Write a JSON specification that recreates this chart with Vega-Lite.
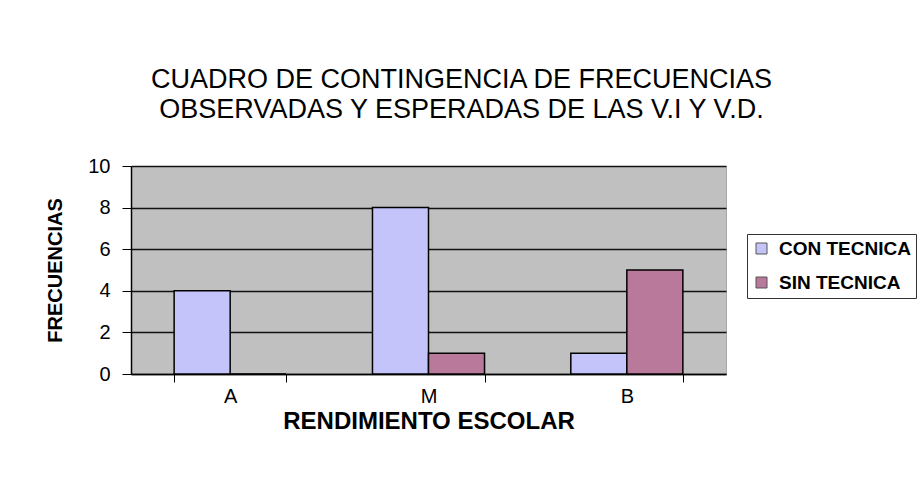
{
  "$schema": "https://vega.github.io/schema/vega-lite/v6.json",
  "autosize": {"type": "none"},
  "padding": {"left": 131, "top": 166, "right": 197, "bottom": 112},
  "width": 595,
  "height": 208,
  "background": "white",
  "title": {
    "text": ["CUADRO DE CONTINGENCIA DE FRECUENCIAS", "OBSERVADAS Y ESPERADAS DE LAS V.I Y V.D."],
    "font": "Liberation Sans",
    "fontSize": 27,
    "fontWeight": "normal",
    "color": "black",
    "lineHeight": 30,
    "anchor": "middle",
    "baseline": "bottom",
    "dx": 33,
    "offset": 5
  },
  "data": {
    "values": [
      {"rendimiento": "A", "serie": "CON TECNICA", "frecuencia": 4},
      {"rendimiento": "A", "serie": "SIN TECNICA", "frecuencia": 0},
      {"rendimiento": "M", "serie": "CON TECNICA", "frecuencia": 8},
      {"rendimiento": "M", "serie": "SIN TECNICA", "frecuencia": 1},
      {"rendimiento": "B", "serie": "CON TECNICA", "frecuencia": 1},
      {"rendimiento": "B", "serie": "SIN TECNICA", "frecuencia": 5}
    ]
  },
  "mark": {"type": "bar", "stroke": "black", "strokeWidth": 1.5},
  "encoding": {
    "x": {
      "field": "rendimiento",
      "type": "nominal",
      "sort": ["A", "M", "B"],
      "scale": {"paddingInner": 0.435, "paddingOuter": 0.2175},
      "axis": {
        "title": "RENDIMIENTO ESCOLAR",
        "titleFont": "Liberation Sans",
        "titleFontSize": 24,
        "titleFontWeight": "bold",
        "titleColor": "black",
        "titlePadding": 3,
        "labelFont": "Liberation Sans",
        "labelFontSize": 20,
        "labelColor": "black",
        "labelAngle": 0,
        "labelPadding": 4,
        "tickBand": "extent",
        "tickSize": 8,
        "tickColor": "black",
        "domainColor": "black",
        "domainWidth": 1.5,
        "grid": false
      }
    },
    "xOffset": {
      "field": "serie",
      "type": "nominal",
      "sort": ["CON TECNICA", "SIN TECNICA"],
      "scale": {"paddingInner": 0, "paddingOuter": 0}
    },
    "y": {
      "field": "frecuencia",
      "type": "quantitative",
      "scale": {"domain": [0, 10], "nice": false},
      "axis": {
        "title": "FRECUENCIAS",
        "titleFont": "Liberation Sans",
        "titleFontSize": 20,
        "titleFontWeight": "bold",
        "titleColor": "black",
        "titlePadding": 22,
        "values": [0, 2, 4, 6, 8, 10],
        "labelFont": "Liberation Sans",
        "labelFontSize": 20,
        "labelColor": "black",
        "labelPadding": 12,
        "tickSize": 9,
        "tickColor": "black",
        "domainColor": "black",
        "domainWidth": 1.5,
        "grid": true,
        "gridColor": "#111111",
        "gridWidth": 1.5
      }
    },
    "color": {
      "field": "serie",
      "type": "nominal",
      "sort": ["CON TECNICA", "SIN TECNICA"],
      "scale": {"domain": ["CON TECNICA", "SIN TECNICA"], "range": ["#c4c4fa", "#b9799a"]},
      "legend": {
        "title": null,
        "orient": "none",
        "legendX": 616,
        "legendY": 68,
        "padding": 5,
        "strokeColor": "#333333",
        "fillColor": "white",
        "symbolType": "square",
        "symbolSize": 121,
        "symbolStrokeColor": "#555555",
        "symbolStrokeWidth": 1,
        "labelFont": "Liberation Sans",
        "labelFontSize": 19,
        "labelFontWeight": "bold",
        "labelColor": "black",
        "labelOffset": 8,
        "rowPadding": 14
      }
    }
  },
  "config": {
    "view": {"fill": "#c0c0c0", "stroke": "#a8a8a8", "strokeWidth": 1}
  }
}
